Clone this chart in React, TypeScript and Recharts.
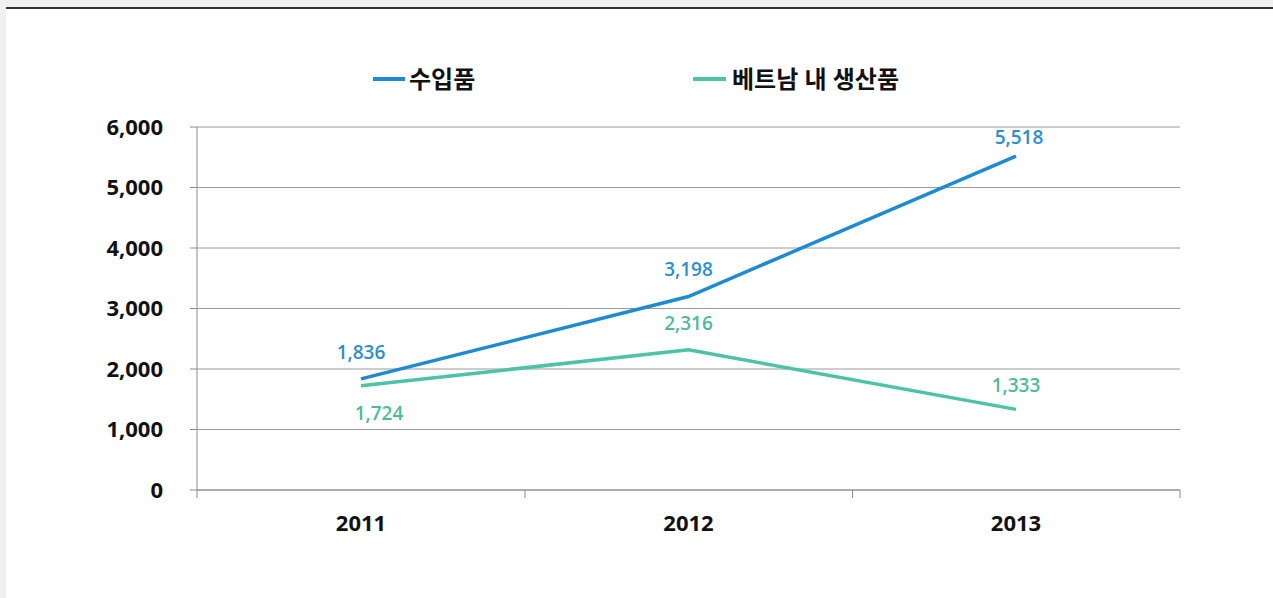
import { LineChart, Line, XAxis, YAxis, CartesianGrid, Legend, LabelList } from "recharts";

const years = ["2011", "2012", "2013"];
const imported = [1836, 3198, 5518];
const domestic = [1724, 2316, 1333];
const yTicks = [0, 1000, 2000, 3000, 4000, 5000, 6000];

const seriesNames = { imported: "수입품", domestic: "베트남 내 생산품" };

const BLUE = "#1d8bd1";
const TEAL = "#4cc2a6";
const AXIS = "#8c8c8c";
const FONT = "'Open Sans', 'Noto Sans CJK KR', sans-serif";
const HALF_BAND = 164;
const LEGEND_H = 30;

const data = years.map((year, i) => ({
  year,
  imported: imported[i],
  domestic: domestic[i],
}));

const fmt = (v: number) => v.toLocaleString("en-US");

const XTick = (props: any) => {
  const { x, y, payload, index } = props;
  return (
    <g>
      {index === 0 && (
        <line x1={x - HALF_BAND} x2={x - HALF_BAND} y1={y} y2={y + 8} stroke={AXIS} />
      )}
      <line x1={x + HALF_BAND} x2={x + HALF_BAND} y1={y} y2={y + 8} stroke={AXIS} />
      <text
        x={x}
        y={y + 41}
        textAnchor="middle"
        fontFamily={FONT}
        fontWeight={700}
        fontSize={22}
        fill="#111"
      >
        {payload.value}
      </text>
    </g>
  );
};

// per-point label offsets (dx, dy from the point)
const makeLabel = (color: string, dx: number[], dy: number[]) => (props: any) => {
  const { x, y, value, index } = props;
  return (
    <text
      x={x + dx[index]}
      y={y + dy[index]}
      textAnchor="middle"
      fontFamily={FONT}
      fontWeight={600}
      fontSize={19}
      fill={color}
    >
      {fmt(value)}
    </text>
  );
};

const LegendContent = () => (
  <div style={{ display: "flex", fontFamily: FONT, fontWeight: 700, fontSize: 24, color: "#111", lineHeight: "30px" }}>
    <div style={{ display: "flex", alignItems: "center", width: 320 }}>
      <span style={{ display: "inline-block", width: 32, height: 4, background: BLUE, marginRight: 4 }} />
      {seriesNames.imported}
    </div>
    <div style={{ display: "flex", alignItems: "center" }}>
      <span style={{ display: "inline-block", width: 33, height: 4, background: TEAL, marginRight: 6 }} />
      {seriesNames.domestic}
    </div>
  </div>
);

export default function App() {
  return (
    <div
      style={{
        position: "absolute",
        left: 0,
        top: 0,
        width: 1273,
        height: 598,
        background: "#f0f0f0",
        overflow: "hidden",
      }}
    >
      <div
        style={{
          position: "absolute",
          left: 6,
          top: 7,
          right: 0,
          bottom: 0,
          background: "#fff",
          borderTop: "2px solid #333",
        }}
      />
      <div style={{ position: "absolute", left: 0, top: 0 }}>
        <LineChart
          width={1273}
          height={598}
          data={data}
          margin={{ top: 127 - LEGEND_H, right: 93, bottom: 68, left: 137 }}
        >
          <CartesianGrid vertical={false} stroke="#9a9a9a" />
          <XAxis
            dataKey="year"
            padding={{ left: HALF_BAND, right: HALF_BAND }}
            stroke={AXIS}
            tickLine={false}
            tickSize={0}
            tickMargin={0}
            height={40}
            tick={<XTick />}
            interval={0}
          />
          <YAxis
            domain={[0, 6000]}
            ticks={yTicks}
            width={60}
            stroke={AXIS}
            tickSize={7}
            tickMargin={27}
            tickFormatter={fmt}
            tick={{ fontFamily: FONT, fontWeight: 700, fontSize: 22, fill: "#111" }}
            interval={0}
          />
          <Legend
            verticalAlign="top"
            content={<LegendContent />}
            wrapperStyle={{ position: "absolute", top: 64, left: 373, width: 700, height: LEGEND_H }}
          />
          <Line
            dataKey="imported"
            name={seriesNames.imported}
            stroke={BLUE}
            strokeWidth={3.5}
            dot={false}
            isAnimationActive={false}
          >
            <LabelList dataKey="imported" content={makeLabel("#2a8fd0", [0, 0, 3], [-20, -21, -12])} />
          </Line>
          <Line
            dataKey="domestic"
            name={seriesNames.domestic}
            stroke={TEAL}
            strokeWidth={3.5}
            dot={false}
            isAnimationActive={false}
          >
            <LabelList dataKey="domestic" content={makeLabel("#4cbb9e", [18, 0, 0], [34, -20, -17])} />
          </Line>
        </LineChart>
      </div>
    </div>
  );
}
